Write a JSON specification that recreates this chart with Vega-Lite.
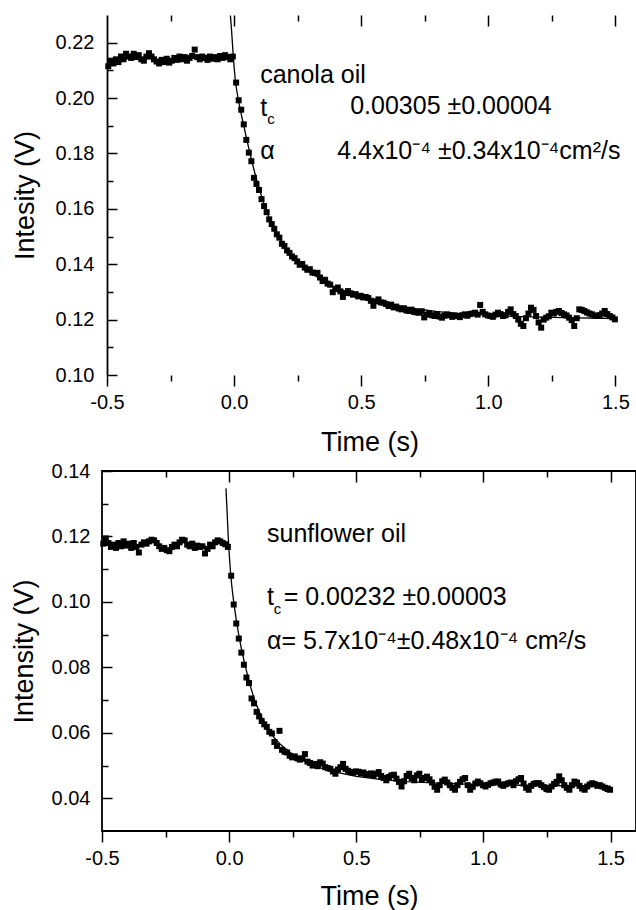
{
"$schema": "https://vega.github.io/schema/vega-lite/v6.json",
"padding": {"left": 9, "top": 14, "right": 0, "bottom": 0},
"background": "white",
"spacing": 5,
"config": {
  "font": "Liberation Sans",
  "view": {"stroke": null},
  "axis": {"grid": false, "labelFont": "Liberation Sans", "titleFont": "Liberation Sans", "labelFontSize": 20, "titleFontSize": 27, "titleFontWeight": "normal", "labelColor": "black", "titleColor": "black", "tickColor": "black", "tickWidth": 1.5, "domainColor": "black", "domainWidth": 1.8, "labelFlush": false, "labelOverlap": false, "labelBound": false}
},
"datasets": {
"c": [
{"t":-0.495,"v":0.2115},{"t":-0.485,"v":0.2135},{"t":-0.475,"v":0.2125},{"t":-0.465,"v":0.2140},{"t":-0.455,"v":0.2130},{"t":-0.445,"v":0.2150},{"t":-0.435,"v":0.2140},{"t":-0.425,"v":0.2160},{"t":-0.415,"v":0.2150},{"t":-0.405,"v":0.2145},
{"t":-0.395,"v":0.2160},{"t":-0.385,"v":0.2148},{"t":-0.375,"v":0.2155},{"t":-0.365,"v":0.2140},{"t":-0.355,"v":0.2135},{"t":-0.345,"v":0.2150},{"t":-0.335,"v":0.2162},{"t":-0.325,"v":0.2150},{"t":-0.315,"v":0.2140},{"t":-0.305,"v":0.2132},
{"t":-0.295,"v":0.2125},{"t":-0.285,"v":0.2138},{"t":-0.275,"v":0.2130},{"t":-0.265,"v":0.2142},{"t":-0.255,"v":0.2128},{"t":-0.245,"v":0.2135},{"t":-0.235,"v":0.2145},{"t":-0.225,"v":0.2138},{"t":-0.215,"v":0.2150},{"t":-0.205,"v":0.2140},
{"t":-0.195,"v":0.2148},{"t":-0.185,"v":0.2135},{"t":-0.175,"v":0.2145},{"t":-0.165,"v":0.2152},{"t":-0.155,"v":0.2175},{"t":-0.145,"v":0.2148},{"t":-0.135,"v":0.2140},{"t":-0.125,"v":0.2150},{"t":-0.115,"v":0.2145},{"t":-0.105,"v":0.2138},
{"t":-0.095,"v":0.2150},{"t":-0.085,"v":0.2142},{"t":-0.075,"v":0.2148},{"t":-0.065,"v":0.2140},{"t":-0.055,"v":0.2152},{"t":-0.045,"v":0.2145},{"t":-0.035,"v":0.2155},{"t":-0.025,"v":0.2148},{"t":-0.015,"v":0.2140},{"t":-0.005,"v":0.2150},
{"t":0.008,"v":0.2056},{"t":0.018,"v":0.1992},{"t":0.028,"v":0.1958},{"t":0.038,"v":0.1905},{"t":0.048,"v":0.1849},{"t":0.058,"v":0.1803},{"t":0.068,"v":0.1772},{"t":0.078,"v":0.1712},{"t":0.088,"v":0.1690},{"t":0.098,"v":0.1668},
{"t":0.108,"v":0.1635},{"t":0.118,"v":0.1610},{"t":0.128,"v":0.1588},{"t":0.138,"v":0.1562},{"t":0.148,"v":0.1545},{"t":0.158,"v":0.1528},{"t":0.168,"v":0.1508},{"t":0.178,"v":0.1496},{"t":0.188,"v":0.1474},{"t":0.198,"v":0.1466},
{"t":0.208,"v":0.1450},{"t":0.218,"v":0.1441},{"t":0.228,"v":0.1428},{"t":0.238,"v":0.1422},{"t":0.248,"v":0.1410},{"t":0.258,"v":0.1398},{"t":0.268,"v":0.1401},{"t":0.278,"v":0.1388},{"t":0.288,"v":0.1380},{"t":0.298,"v":0.1382},
{"t":0.308,"v":0.1370},{"t":0.318,"v":0.1368},{"t":0.328,"v":0.1369},{"t":0.338,"v":0.1352},{"t":0.348,"v":0.1339},{"t":0.358,"v":0.1344},{"t":0.368,"v":0.1330},{"t":0.378,"v":0.1326},{"t":0.388,"v":0.1299},{"t":0.398,"v":0.1310},
{"t":0.408,"v":0.1316},{"t":0.418,"v":0.1302},{"t":0.428,"v":0.1282},{"t":0.438,"v":0.1296},{"t":0.448,"v":0.1303},{"t":0.458,"v":0.1295},{"t":0.468,"v":0.1290},{"t":0.478,"v":0.1292},{"t":0.488,"v":0.1284},{"t":0.498,"v":0.1286},
{"t":0.508,"v":0.1280},{"t":0.518,"v":0.1282},{"t":0.528,"v":0.1278},{"t":0.538,"v":0.1268},{"t":0.548,"v":0.1250},{"t":0.558,"v":0.1266},{"t":0.568,"v":0.1273},{"t":0.578,"v":0.1262},{"t":0.588,"v":0.1261},{"t":0.598,"v":0.1256},
{"t":0.608,"v":0.1249},{"t":0.618,"v":0.1254},{"t":0.628,"v":0.1244},{"t":0.638,"v":0.1247},{"t":0.648,"v":0.1240},{"t":0.658,"v":0.1237},{"t":0.668,"v":0.1241},{"t":0.678,"v":0.1233},{"t":0.688,"v":0.1231},{"t":0.698,"v":0.1236},
{"t":0.708,"v":0.1228},{"t":0.718,"v":0.1226},{"t":0.728,"v":0.1225},{"t":0.738,"v":0.1230},{"t":0.748,"v":0.1208},{"t":0.758,"v":0.1218},{"t":0.768,"v":0.1222},{"t":0.778,"v":0.1216},{"t":0.788,"v":0.1213},{"t":0.798,"v":0.1220},
{"t":0.808,"v":0.1211},{"t":0.818,"v":0.1207},{"t":0.828,"v":0.1214},{"t":0.838,"v":0.1219},{"t":0.848,"v":0.1216},{"t":0.858,"v":0.1210},{"t":0.868,"v":0.1215},{"t":0.878,"v":0.1213},{"t":0.888,"v":0.1209},{"t":0.898,"v":0.1216},
{"t":0.908,"v":0.1219},{"t":0.918,"v":0.1214},{"t":0.928,"v":0.1220},{"t":0.938,"v":0.1222},{"t":0.948,"v":0.1225},{"t":0.958,"v":0.1218},{"t":0.968,"v":0.1253},{"t":0.978,"v":0.1228},{"t":0.988,"v":0.1219},{"t":0.998,"v":0.1215},
{"t":1.008,"v":0.1213},{"t":1.018,"v":0.1210},{"t":1.028,"v":0.1218},{"t":1.038,"v":0.1225},{"t":1.048,"v":0.1220},{"t":1.058,"v":0.1213},{"t":1.068,"v":0.1216},{"t":1.078,"v":0.1228},{"t":1.088,"v":0.1237},{"t":1.098,"v":0.1220},
{"t":1.108,"v":0.1213},{"t":1.118,"v":0.1200},{"t":1.128,"v":0.1185},{"t":1.138,"v":0.1177},{"t":1.148,"v":0.1205},{"t":1.158,"v":0.1222},{"t":1.168,"v":0.1243},{"t":1.178,"v":0.1235},{"t":1.188,"v":0.1213},{"t":1.198,"v":0.1190},
{"t":1.208,"v":0.1171},{"t":1.218,"v":0.1200},{"t":1.228,"v":0.1207},{"t":1.238,"v":0.1212},{"t":1.248,"v":0.1225},{"t":1.258,"v":0.1222},{"t":1.268,"v":0.1228},{"t":1.278,"v":0.1231},{"t":1.288,"v":0.1224},{"t":1.298,"v":0.1219},
{"t":1.308,"v":0.1215},{"t":1.318,"v":0.1207},{"t":1.328,"v":0.1198},{"t":1.338,"v":0.1177},{"t":1.348,"v":0.1205},{"t":1.358,"v":0.1237},{"t":1.368,"v":0.1235},{"t":1.378,"v":0.1231},{"t":1.388,"v":0.1226},{"t":1.398,"v":0.1222},
{"t":1.408,"v":0.1219},{"t":1.418,"v":0.1215},{"t":1.428,"v":0.1213},{"t":1.438,"v":0.1216},{"t":1.448,"v":0.1222},{"t":1.458,"v":0.1231},{"t":1.468,"v":0.1220},{"t":1.478,"v":0.1213},{"t":1.488,"v":0.1208},{"t":1.498,"v":0.1201}
],
"cf": [
{"t":-0.0145,"v":0.2298},{"t":-0.01,"v":0.2245},{"t":-0.005,"v":0.2175},{"t":0,"v":0.2112},{"t":0.005,"v":0.2062},{"t":0.01,"v":0.2030},{"t":0.015,"v":0.2003},{"t":0.02,"v":0.1978},{"t":0.03,"v":0.1934},{"t":0.04,"v":0.1892},{"t":0.05,"v":0.1850},{"t":0.065,"v":0.1790},{"t":0.08,"v":0.1735},{"t":0.1,"v":0.1668},{"t":0.125,"v":0.1598},{"t":0.15,"v":0.1542},{"t":0.175,"v":0.1498},{"t":0.2,"v":0.1463},{"t":0.25,"v":0.1410},{"t":0.3,"v":0.1370},{"t":0.35,"v":0.1340},{"t":0.4,"v":0.1316},{"t":0.5,"v":0.1282},{"t":0.6,"v":0.1258},{"t":0.7,"v":0.1241},{"t":0.8,"v":0.1229},{"t":0.9,"v":0.1221},{"t":1.0,"v":0.1216},{"t":1.1,"v":0.1212},{"t":1.2,"v":0.1209},{"t":1.35,"v":0.1206},{"t":1.5,"v":0.1204}
],
"ct": [
{"t":0.1024,"v":0.2054,"label":"canola oil"},
{"t":0.1024,"v":0.1935,"label":"t"},
{"t":0.4567,"v":0.1941,"label":"0.00305 ±0.00004"},
{"t":0.1024,"v":0.1779,"label":"α"},
{"t":0.4055,"v":0.1779,"label":"4.4x10⁻⁴ ±0.34x10⁻⁴cm²/s"}
],
"cs": [
{"t":0.130,"v":0.1906,"label":"c"}
],
"s": [
{"t":-0.495,"v":0.1178},{"t":-0.485,"v":0.1194},{"t":-0.475,"v":0.1180},{"t":-0.465,"v":0.1168},{"t":-0.455,"v":0.1175},{"t":-0.445,"v":0.1165},{"t":-0.435,"v":0.1180},{"t":-0.425,"v":0.1170},{"t":-0.415,"v":0.1185},{"t":-0.405,"v":0.1172},
{"t":-0.395,"v":0.1178},{"t":-0.385,"v":0.1165},{"t":-0.375,"v":0.1180},{"t":-0.365,"v":0.1168},{"t":-0.355,"v":0.1151},{"t":-0.345,"v":0.1175},{"t":-0.335,"v":0.1182},{"t":-0.325,"v":0.1178},{"t":-0.315,"v":0.1185},{"t":-0.305,"v":0.1190},
{"t":-0.295,"v":0.1188},{"t":-0.285,"v":0.1180},{"t":-0.275,"v":0.1170},{"t":-0.265,"v":0.1162},{"t":-0.255,"v":0.1165},{"t":-0.245,"v":0.1158},{"t":-0.235,"v":0.1155},{"t":-0.225,"v":0.1168},{"t":-0.215,"v":0.1175},{"t":-0.205,"v":0.1170},
{"t":-0.195,"v":0.1182},{"t":-0.185,"v":0.1190},{"t":-0.175,"v":0.1188},{"t":-0.165,"v":0.1175},{"t":-0.155,"v":0.1170},{"t":-0.145,"v":0.1178},{"t":-0.135,"v":0.1165},{"t":-0.125,"v":0.1172},{"t":-0.115,"v":0.1168},{"t":-0.105,"v":0.1170},
{"t":-0.095,"v":0.1148},{"t":-0.085,"v":0.1162},{"t":-0.075,"v":0.1175},{"t":-0.065,"v":0.1170},{"t":-0.055,"v":0.1182},{"t":-0.045,"v":0.1188},{"t":-0.035,"v":0.1185},{"t":-0.025,"v":0.1180},{"t":-0.015,"v":0.1176},{"t":-0.005,"v":0.1168},
{"t":0.008,"v":0.1080},{"t":0.018,"v":0.0992},{"t":0.028,"v":0.0934},{"t":0.038,"v":0.0888},{"t":0.048,"v":0.0845},{"t":0.058,"v":0.0808},{"t":0.068,"v":0.0769},{"t":0.078,"v":0.0752},{"t":0.088,"v":0.0705},{"t":0.098,"v":0.0690},
{"t":0.108,"v":0.0664},{"t":0.118,"v":0.0650},{"t":0.128,"v":0.0636},{"t":0.138,"v":0.0626},{"t":0.148,"v":0.0618},{"t":0.158,"v":0.0603},{"t":0.168,"v":0.0598},{"t":0.178,"v":0.0572},{"t":0.188,"v":0.0560},{"t":0.198,"v":0.0606},
{"t":0.208,"v":0.0548},{"t":0.218,"v":0.0542},{"t":0.228,"v":0.0540},{"t":0.238,"v":0.0530},{"t":0.248,"v":0.0525},{"t":0.258,"v":0.0528},{"t":0.268,"v":0.0522},{"t":0.278,"v":0.0518},{"t":0.288,"v":0.0522},{"t":0.298,"v":0.0535},
{"t":0.308,"v":0.0512},{"t":0.318,"v":0.0508},{"t":0.328,"v":0.0500},{"t":0.338,"v":0.0505},{"t":0.348,"v":0.0498},{"t":0.358,"v":0.0510},{"t":0.368,"v":0.0506},{"t":0.378,"v":0.0495},{"t":0.388,"v":0.0492},{"t":0.398,"v":0.0490},
{"t":0.408,"v":0.0482},{"t":0.418,"v":0.0475},{"t":0.428,"v":0.0488},{"t":0.438,"v":0.0495},{"t":0.448,"v":0.0505},{"t":0.458,"v":0.0490},{"t":0.468,"v":0.0484},{"t":0.478,"v":0.0480},{"t":0.488,"v":0.0478},{"t":0.498,"v":0.0482},
{"t":0.508,"v":0.0481},{"t":0.518,"v":0.0476},{"t":0.528,"v":0.0479},{"t":0.538,"v":0.0474},{"t":0.548,"v":0.0472},{"t":0.558,"v":0.0476},{"t":0.568,"v":0.0470},{"t":0.578,"v":0.0475},{"t":0.588,"v":0.0480},{"t":0.598,"v":0.0468},
{"t":0.608,"v":0.0462},{"t":0.618,"v":0.0455},{"t":0.628,"v":0.0465},{"t":0.638,"v":0.0470},{"t":0.648,"v":0.0472},{"t":0.658,"v":0.0460},{"t":0.668,"v":0.0450},{"t":0.678,"v":0.0436},{"t":0.688,"v":0.0452},{"t":0.698,"v":0.0468},
{"t":0.708,"v":0.0475},{"t":0.718,"v":0.0462},{"t":0.728,"v":0.0455},{"t":0.738,"v":0.0470},{"t":0.748,"v":0.0475},{"t":0.758,"v":0.0457},{"t":0.768,"v":0.0462},{"t":0.778,"v":0.0466},{"t":0.788,"v":0.0458},{"t":0.798,"v":0.0448},
{"t":0.808,"v":0.0435},{"t":0.818,"v":0.0426},{"t":0.828,"v":0.0440},{"t":0.838,"v":0.0452},{"t":0.848,"v":0.0457},{"t":0.858,"v":0.0448},{"t":0.868,"v":0.0440},{"t":0.878,"v":0.0432},{"t":0.888,"v":0.0426},{"t":0.898,"v":0.0440},
{"t":0.908,"v":0.0450},{"t":0.918,"v":0.0458},{"t":0.928,"v":0.0462},{"t":0.938,"v":0.0440},{"t":0.948,"v":0.0426},{"t":0.958,"v":0.0435},{"t":0.968,"v":0.0445},{"t":0.978,"v":0.0451},{"t":0.988,"v":0.0446},{"t":0.998,"v":0.0440},
{"t":1.008,"v":0.0436},{"t":1.018,"v":0.0441},{"t":1.028,"v":0.0446},{"t":1.038,"v":0.0448},{"t":1.048,"v":0.0451},{"t":1.058,"v":0.0451},{"t":1.068,"v":0.0442},{"t":1.078,"v":0.0438},{"t":1.088,"v":0.0443},{"t":1.098,"v":0.0446},
{"t":1.108,"v":0.0448},{"t":1.118,"v":0.0440},{"t":1.128,"v":0.0452},{"t":1.138,"v":0.0458},{"t":1.148,"v":0.0462},{"t":1.158,"v":0.0445},{"t":1.168,"v":0.0432},{"t":1.178,"v":0.0426},{"t":1.188,"v":0.0438},{"t":1.198,"v":0.0444},
{"t":1.208,"v":0.0446},{"t":1.218,"v":0.0446},{"t":1.228,"v":0.0440},{"t":1.238,"v":0.0434},{"t":1.248,"v":0.0428},{"t":1.258,"v":0.0426},{"t":1.268,"v":0.0436},{"t":1.278,"v":0.0444},{"t":1.288,"v":0.0450},{"t":1.298,"v":0.0467},
{"t":1.308,"v":0.0455},{"t":1.318,"v":0.0440},{"t":1.328,"v":0.0432},{"t":1.338,"v":0.0426},{"t":1.348,"v":0.0440},{"t":1.358,"v":0.0451},{"t":1.368,"v":0.0448},{"t":1.378,"v":0.0438},{"t":1.388,"v":0.0430},{"t":1.398,"v":0.0426},
{"t":1.408,"v":0.0436},{"t":1.418,"v":0.0442},{"t":1.428,"v":0.0446},{"t":1.438,"v":0.0443},{"t":1.448,"v":0.0438},{"t":1.458,"v":0.0440},{"t":1.468,"v":0.0436},{"t":1.478,"v":0.0432},{"t":1.488,"v":0.0428},{"t":1.498,"v":0.0426}
],
"sf": [
{"t":-0.0124,"v":0.1347},{"t":-0.008,"v":0.1275},{"t":-0.004,"v":0.1205},{"t":0,"v":0.1150},{"t":0.005,"v":0.1095},{"t":0.01,"v":0.1052},{"t":0.015,"v":0.1018},{"t":0.02,"v":0.0988},{"t":0.03,"v":0.0935},{"t":0.04,"v":0.0889},{"t":0.05,"v":0.0850},{"t":0.06,"v":0.0815},{"t":0.08,"v":0.0752},{"t":0.1,"v":0.0700},{"t":0.125,"v":0.0652},{"t":0.15,"v":0.0615},{"t":0.175,"v":0.0587},{"t":0.2,"v":0.0566},{"t":0.25,"v":0.0533},{"t":0.3,"v":0.0511},{"t":0.35,"v":0.0495},{"t":0.4,"v":0.0483},{"t":0.5,"v":0.0467},{"t":0.6,"v":0.0457},{"t":0.7,"v":0.0451},{"t":0.8,"v":0.0447},{"t":0.9,"v":0.0444},{"t":1.0,"v":0.0442},{"t":1.2,"v":0.0439},{"t":1.5,"v":0.0437}
],
"st": [
{"t":0.149,"v":0.1182,"label":"sunflower oil"},
{"t":0.149,"v":0.0990,"label":"t"},
{"t":0.2144,"v":0.0990,"label":"= 0.00232 ±0.00003"},
{"t":0.149,"v":0.0856,"label":"α= 5.7x10⁻⁴±0.48x10⁻⁴ cm²/s"}
],
"ss": [
{"t":0.175,"v":0.0963,"label":"c"}
]
},
"vconcat": [
{
  "width": 535, "height": 360,
  "view": {"stroke": null},
  "resolve": {"axis": {"x": "independent", "y": "independent"}},
  "layer": [
    {
      "data": {"name": "c"},
      "mark": {"type": "square", "size": 36, "color": "black", "opacity": 1},
      "encoding": {
        "x": {"field": "t", "type": "quantitative", "scale": {"domain": [-0.51967, 1.585], "nice": false, "zero": false},
              "axis": {"orient": "bottom", "values": [-0.5, 0, 0.5, 1, 1.5], "tickSize": 11, "labelPadding": 6, "labelExpr": "replace(format(datum.value, '.1f'), '−', '-')", "title": "Time (s)", "titlePadding": 17, "domain": false}},
        "y": {"field": "v", "type": "quantitative", "scale": {"domain": [0.10, 0.23], "nice": false, "zero": false},
              "axis": {"orient": "left", "offset": -5, "values": [0.10, 0.12, 0.14, 0.16, 0.18, 0.20, 0.22], "tickSize": -10, "labelPadding": 23, "format": ".2f", "title": "Intesity (V)", "titlePadding": 16, "domain": true}}
      }
    },
    {
      "data": {"name": "cf"},
      "mark": {"type": "line", "color": "black", "strokeWidth": 1.3, "clip": true},
      "encoding": {
        "x": {"field": "t", "type": "quantitative", "scale": {"domain": [-0.51967, 1.585], "nice": false, "zero": false},
              "axis": {"orient": "bottom", "values": [-0.25, 0.25, 0.75, 1.25], "tickSize": 6, "labels": false, "title": null, "domain": false}},
        "y": {"field": "v", "type": "quantitative", "scale": {"domain": [0.10, 0.23], "nice": false, "zero": false},
              "axis": {"orient": "left", "offset": -5, "values": [0.11, 0.13, 0.15, 0.17, 0.19, 0.21], "tickSize": -6, "labels": false, "title": null, "domain": false}}
      }
    },
    {
      "mark": {"type": "rule", "color": "black", "strokeWidth": 1.8},
      "encoding": {
        "x": {"datum": -0.5, "type": "quantitative", "axis": null},
        "x2": {"datum": 1.585},
        "y": {"datum": 0.10, "type": "quantitative", "axis": null}
      }
    },
    {
      "mark": {"type": "rule", "color": "black", "strokeWidth": 1.8},
      "encoding": {
        "x": {"datum": -0.5, "type": "quantitative", "axis": null},
        "x2": {"datum": 1.585},
        "y": {"datum": 0.23, "type": "quantitative", "axis": null}
      }
    },
    {
      "data": {"name": "ct"},
      "mark": {"type": "text", "align": "left", "baseline": "alphabetic", "fontSize": 25, "font": "Liberation Sans", "color": "black"},
      "encoding": {
        "x": {"field": "t", "type": "quantitative", "scale": {"domain": [-0.51967, 1.585], "nice": false, "zero": false},
              "axis": {"orient": "top", "values": [0, 0.5, 1, 1.5], "tickSize": -11, "labels": false, "title": null, "domain": false}},
        "y": {"field": "v", "type": "quantitative", "scale": {"domain": [0.10, 0.23], "nice": false, "zero": false}, "axis": null},
        "text": {"field": "label"}
      }
    },
    {
      "data": {"name": "cs"},
      "mark": {"type": "text", "align": "left", "baseline": "alphabetic", "fontSize": 15, "font": "Liberation Sans", "color": "black"},
      "encoding": {
        "x": {"field": "t", "type": "quantitative", "scale": {"domain": [-0.51967, 1.585], "nice": false, "zero": false},
              "axis": {"orient": "top", "values": [-0.25, 0.25, 0.75, 1.25], "tickSize": -6, "labels": false, "title": null, "domain": false}},
        "y": {"field": "v", "type": "quantitative", "scale": {"domain": [0.10, 0.23], "nice": false, "zero": false}, "axis": null},
        "text": {"field": "label"}
      }
    }
  ]
},
{
  "width": 534, "height": 360,
  "view": {"stroke": "black", "strokeWidth": 1.8},
  "resolve": {"axis": {"x": "independent", "y": "independent"}},
  "layer": [
    {
      "data": {"name": "s"},
      "mark": {"type": "square", "size": 36, "color": "black", "opacity": 1},
      "encoding": {
        "x": {"field": "t", "type": "quantitative", "scale": {"domain": [-0.5, 1.6], "nice": false, "zero": false},
              "axis": {"orient": "bottom", "values": [-0.5, 0, 0.5, 1, 1.5], "tickSize": 11, "labelPadding": 6, "labelExpr": "replace(format(datum.value, '.1f'), '−', '-')", "title": "Time (s)", "titlePadding": 15, "domain": false}},
        "y": {"field": "v", "type": "quantitative", "scale": {"domain": [0.03, 0.14], "nice": false, "zero": false},
              "axis": {"orient": "left", "values": [0.04, 0.06, 0.08, 0.10, 0.12, 0.14], "tickSize": -10, "labelPadding": 22, "format": ".2f", "title": "Intensity (V)", "titlePadding": 13, "domain": false}}
      }
    },
    {
      "data": {"name": "sf"},
      "mark": {"type": "line", "color": "black", "strokeWidth": 1.3, "clip": true},
      "encoding": {
        "x": {"field": "t", "type": "quantitative", "scale": {"domain": [-0.5, 1.6], "nice": false, "zero": false},
              "axis": {"orient": "bottom", "values": [-0.25, 0.25, 0.75, 1.25], "tickSize": 6, "labels": false, "title": null, "domain": false}},
        "y": {"field": "v", "type": "quantitative", "scale": {"domain": [0.03, 0.14], "nice": false, "zero": false},
              "axis": {"orient": "left", "values": [0.05, 0.07, 0.09, 0.11, 0.13], "tickSize": -6, "labels": false, "title": null, "domain": false}}
      }
    },
    {
      "data": {"name": "st"},
      "mark": {"type": "text", "align": "left", "baseline": "alphabetic", "fontSize": 25, "font": "Liberation Sans", "color": "black"},
      "encoding": {
        "x": {"field": "t", "type": "quantitative", "scale": {"domain": [-0.5, 1.6], "nice": false, "zero": false},
              "axis": {"orient": "top", "values": [0, 0.5, 1, 1.5], "tickSize": -11, "labels": false, "title": null, "domain": false}},
        "y": {"field": "v", "type": "quantitative", "scale": {"domain": [0.03, 0.14], "nice": false, "zero": false}, "axis": null},
        "text": {"field": "label"}
      }
    },
    {
      "data": {"name": "ss"},
      "mark": {"type": "text", "align": "left", "baseline": "alphabetic", "fontSize": 15, "font": "Liberation Sans", "color": "black"},
      "encoding": {
        "x": {"field": "t", "type": "quantitative", "scale": {"domain": [-0.5, 1.6], "nice": false, "zero": false},
              "axis": {"orient": "top", "values": [-0.25, 0.25, 0.75, 1.25], "tickSize": -6, "labels": false, "title": null, "domain": false}},
        "y": {"field": "v", "type": "quantitative", "scale": {"domain": [0.03, 0.14], "nice": false, "zero": false}, "axis": null},
        "text": {"field": "label"}
      }
    }
  ]
}
]
}
